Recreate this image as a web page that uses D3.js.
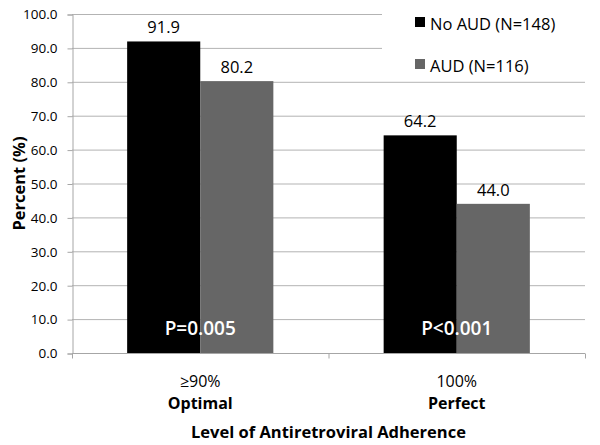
<!DOCTYPE html>
<html>
<head>
<meta charset="utf-8">
<script src="https://cdn.jsdelivr.net/npm/d3@7"></script>
<style>
  body { margin: 0; background: #fff; }
  svg text { font-family: "Open Sans", "Noto Sans", sans-serif; }
</style>
</head>
<body>
<div id="chart"></div>
<script>
// data
var categories = ["≥90%", "100%"];
var categoryNames = ["Optimal", "Perfect"];
var seriesNames = ["No AUD (N=148)", "AUD (N=116)"];
var noAud = [91.9, 64.2];
var aud = [80.2, 44.0];
var pValues = ["P=0.005", "P<0.001"];
var yTicks = [0, 10, 20, 30, 40, 50, 60, 70, 80, 90, 100];

var colors = ["#000000", "#666666"];
var width = 600, height = 445;
var margin = {top: 14, right: 15, bottom: 92, left: 72};

var svg = d3.select("#chart").append("svg")
    .attr("width", width)
    .attr("height", height);

var y = d3.scaleLinear()
    .domain([0, 100])
    .range([height - margin.bottom, margin.top]);

var x0 = d3.scaleBand()
    .domain(categories)
    .range([margin.left, width - margin.right])
    .paddingInner(0.43)
    .paddingOuter(0.215);

var x1 = d3.scaleBand()
    .domain([0, 1])
    .range([0, x0.bandwidth()]);

// gridlines
svg.append("g")
    .selectAll("line")
    .data(yTicks.filter(function(d) { return d > 0; }))
    .join("line")
    .attr("x1", margin.left)
    .attr("x2", width - margin.right)
    .attr("y1", function(d) { return y(d) + 0.5; })
    .attr("y2", function(d) { return y(d) + 0.5; })
    .attr("stroke", "#b3b3b3")
    .attr("stroke-width", 1);

// y axis
var yAxis = svg.append("g")
    .attr("transform", "translate(" + (margin.left + 0.5) + ",0.5)")
    .call(d3.axisLeft(y).tickValues(yTicks).tickFormat(d3.format(".1f")).tickSize(5).tickPadding(10));
yAxis.select(".domain").attr("stroke", "#a6a6a6");
yAxis.selectAll(".tick line").attr("stroke", "#a6a6a6");
yAxis.selectAll("text")
    .attr("font-size", "13.5px")
    .attr("fill", "#000");

// x axis baseline + ticks
var xAxis = svg.append("g")
    .attr("transform", "translate(0," + (y(0) + 0.5) + ")");
xAxis.append("line")
    .attr("x1", margin.left)
    .attr("x2", width - margin.right)
    .attr("stroke", "#a6a6a6");
var step = x0.step();
xAxis.selectAll("line.tk")
    .data([0, 1, 2])
    .join("line")
    .attr("class", "tk")
    .attr("x1", function(d) { return margin.left + d * step + 0.5; })
    .attr("x2", function(d) { return margin.left + d * step + 0.5; })
    .attr("y1", 0)
    .attr("y2", 5)
    .attr("stroke", "#a6a6a6");

// legend box (covers the gridlines)
svg.append("rect")
    .attr("x", 382)
    .attr("y", 0)
    .attr("width", 210)
    .attr("height", 74)
    .attr("fill", "#fff");

// bars
var groups = svg.append("g")
    .selectAll("g")
    .data(categories)
    .join("g")
    .attr("transform", function(d) { return "translate(" + x0(d) + ",0)"; });

groups.selectAll("rect")
    .data(function(d, i) { return [noAud[i], aud[i]]; })
    .join("rect")
    .attr("x", function(d, j) { return x1(j); })
    .attr("y", function(d) { return y(d); })
    .attr("width", x1.bandwidth())
    .attr("height", function(d) { return y(0) - y(d); })
    .attr("fill", function(d, j) { return colors[j]; });

// value labels
groups.selectAll("text.val")
    .data(function(d, i) { return [noAud[i], aud[i]]; })
    .join("text")
    .attr("class", "val")
    .attr("x", function(d, j) { return x1(j) + x1.bandwidth() / 2; })
    .attr("y", function(d) { return y(d) - 8; })
    .attr("text-anchor", "middle")
    .attr("font-size", "16.5px")
    .text(function(d) { return d.toFixed(1); });

// p-values
groups.append("text")
    .attr("x", x0.bandwidth() / 2)
    .attr("y", y(0) - 18)
    .attr("text-anchor", "middle")
    .attr("font-size", "19px")
    .attr("font-weight", "600")
    .attr("fill", "#fff")
    .text(function(d, i) { return pValues[i]; });

// category labels
svg.append("g")
    .selectAll("text")
    .data(categories)
    .join("text")
    .attr("x", function(d) { return x0(d) + x0.bandwidth() / 2; })
    .attr("y", 387)
    .attr("text-anchor", "middle")
    .attr("font-size", "16px")
    .text(function(d) { return d; });

svg.append("g")
    .selectAll("text")
    .data(categoryNames)
    .join("text")
    .attr("x", function(d, i) { return x0(categories[i]) + x0.bandwidth() / 2; })
    .attr("y", 409)
    .attr("text-anchor", "middle")
    .attr("font-size", "16px")
    .attr("font-weight", "bold")
    .text(function(d) { return d; });

// axis titles
svg.append("text")
    .attr("x", (margin.left + width - margin.right) / 2)
    .attr("y", 438)
    .attr("text-anchor", "middle")
    .attr("font-size", "16.5px")
    .attr("font-weight", "bold")
    .text("Level of Antiretroviral Adherence");

svg.append("text")
    .attr("transform", "translate(25," + ((margin.top + y(0)) / 2) + ") rotate(-90)")
    .attr("text-anchor", "middle")
    .attr("font-size", "16.5px")
    .attr("font-weight", "bold")
    .text("Percent (%)");

// legend
var legend = svg.append("g")
    .selectAll("g")
    .data(seriesNames)
    .join("g")
    .attr("transform", function(d, i) { return "translate(415," + (17 + i * 42) + ")"; });
legend.append("rect")
    .attr("width", 10)
    .attr("height", 10)
    .attr("fill", function(d, i) { return colors[i]; });
legend.append("text")
    .attr("x", 15)
    .attr("y", 13)
    .attr("font-size", "16.5px")
    .text(function(d) { return d; });
</script>
</body>
</html>
